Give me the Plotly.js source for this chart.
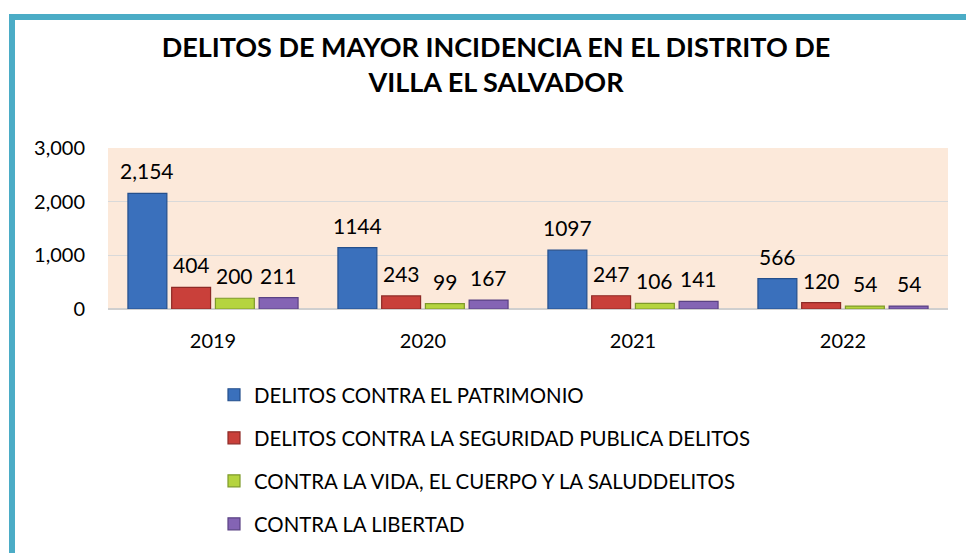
<!DOCTYPE html>
<html>
<head>
<meta charset="utf-8">
<script src="https://cdn.plot.ly/plotly-3.0.1.min.js"></script>
<style>
html,body{margin:0;padding:0;background:#fff;overflow:hidden;}
#wrap{position:relative;width:966px;height:553px;overflow:hidden;}
#chart{position:absolute;left:0;top:0;width:966px;height:600px;}
#frame{position:absolute;left:9px;top:14px;width:980px;height:600px;border-top:6px solid #4BACC6;border-left:6px solid #4BACC6;pointer-events:none;}
</style>
</head>
<body>
<div id="wrap"><div id="chart"></div><div id="frame"></div></div>
<script>
const years = ['2019', '2020', '2021', '2022'];
const seriesNames = [
  'DELITOS CONTRA EL PATRIMONIO',
  'DELITOS CONTRA LA SEGURIDAD PUBLICA DELITOS',
  'CONTRA LA VIDA, EL CUERPO Y LA SALUDDELITOS',
  'CONTRA LA LIBERTAD'
];
const patrimonio = [2154, 1144, 1097, 566];
const seguridad = [404, 243, 247, 120];
const vida = [200, 99, 106, 54];
const libertad = [211, 167, 141, 54];
const labelText = [
  ['2,154', '1144', '1097', '566'],
  ['404', '243', '247', '120'],
  ['200', '99', '106', '54'],
  ['211', '167', '141', '54']
];
const yTickVals = [0, 1000, 2000, 3000];
const yTickText = ['0', '1,000', '2,000', '3,000'];

const allValues = [patrimonio, seguridad, vida, libertad];
const fills = ['#3A70BC', '#C9403A', '#B5D43F', '#8464B4'];
const edges = ['#244F8C', '#8E2A26', '#7E9A2A', '#5A4284'];

const FONT = 'Lato, "Open Sans", sans-serif';

const traces = allValues.map((vals, i) => ({
  type: 'bar',
  name: seriesNames[i],
  x: years,
  y: vals,
  legendgroup: 'g' + i,
  marker: {color: fills[i], line: {color: edges[i], width: 1.2}},
  hoverinfo: 'none'
}));

const W = 966, H = 600, L = 108, R = 18, T = 148, PB = 309;
const plotW = W - L - R;
const plotH = PB - T;
const bargap = 0.167, bargroupgap = 0.11;
const catW = plotW / years.length;
const slot = catW * (1 - bargap) / allValues.length;

const annotations = [];
allValues.forEach((vals, i) => {
  vals.forEach((v, j) => {
    annotations.push({
      x: j, y: v, xref: 'x', yref: 'y',
      text: labelText[i][j], showarrow: false,
      xanchor: 'center', yanchor: 'bottom',
      xshift: (i - 1.5) * slot, yshift: 8,
      font: {family: FONT, size: 21, color: '#000'}
    });
  });
});

const layout = {
  width: W, height: H,
  margin: {l: L, r: R, t: T, b: H - PB},
  paper_bgcolor: 'rgba(0,0,0,0)',
  plot_bgcolor: '#FCE9DA',
  barmode: 'group',
  bargap: bargap,
  bargroupgap: bargroupgap,
  font: {family: FONT, size: 20, color: '#000'},
  title: {
    text: '<b>DELITOS DE MAYOR INCIDENCIA EN EL DISTRITO DE<br>VILLA EL SALVADOR</b>',
    font: {family: FONT, size: 27, color: '#000'},
    x: 496 / W, xanchor: 'center', xref: 'container',
    y: 1 - 57 / H, yanchor: 'middle', yref: 'container'
  },
  xaxis: {
    type: 'category', range: [-0.5, 3.5], showgrid: false, zeroline: false,
    showline: false, ticks: '', ticklabelstandoff: 18,
    tickfont: {family: FONT, size: 20, color: '#000'}
  },
  yaxis: {
    range: [0, 3000], tickvals: yTickVals, ticktext: yTickText,
    showgrid: true, gridcolor: '#D9D9D9', gridwidth: 1.5,
    zeroline: true, zerolinecolor: '#CFCFCF', zerolinewidth: 2.5,
    showline: false, ticks: '', ticklabelstandoff: 22,
    tickfont: {family: FONT, size: 20, color: '#000'}
  },
  showlegend: true,
  legend: {
    orientation: 'v', x: (214 - L) / plotW, xanchor: 'left',
    y: -(375 - PB) / plotH, yanchor: 'top',
    traceorder: 'grouped', tracegroupgap: 13.5,
    font: {family: FONT, size: 20.4, color: '#000'},
    bgcolor: 'rgba(0,0,0,0)'
  },
  annotations: annotations
};

Plotly.newPlot('chart', traces, layout, {displayModeBar: false, staticPlot: true});
</script>
</body>
</html>
